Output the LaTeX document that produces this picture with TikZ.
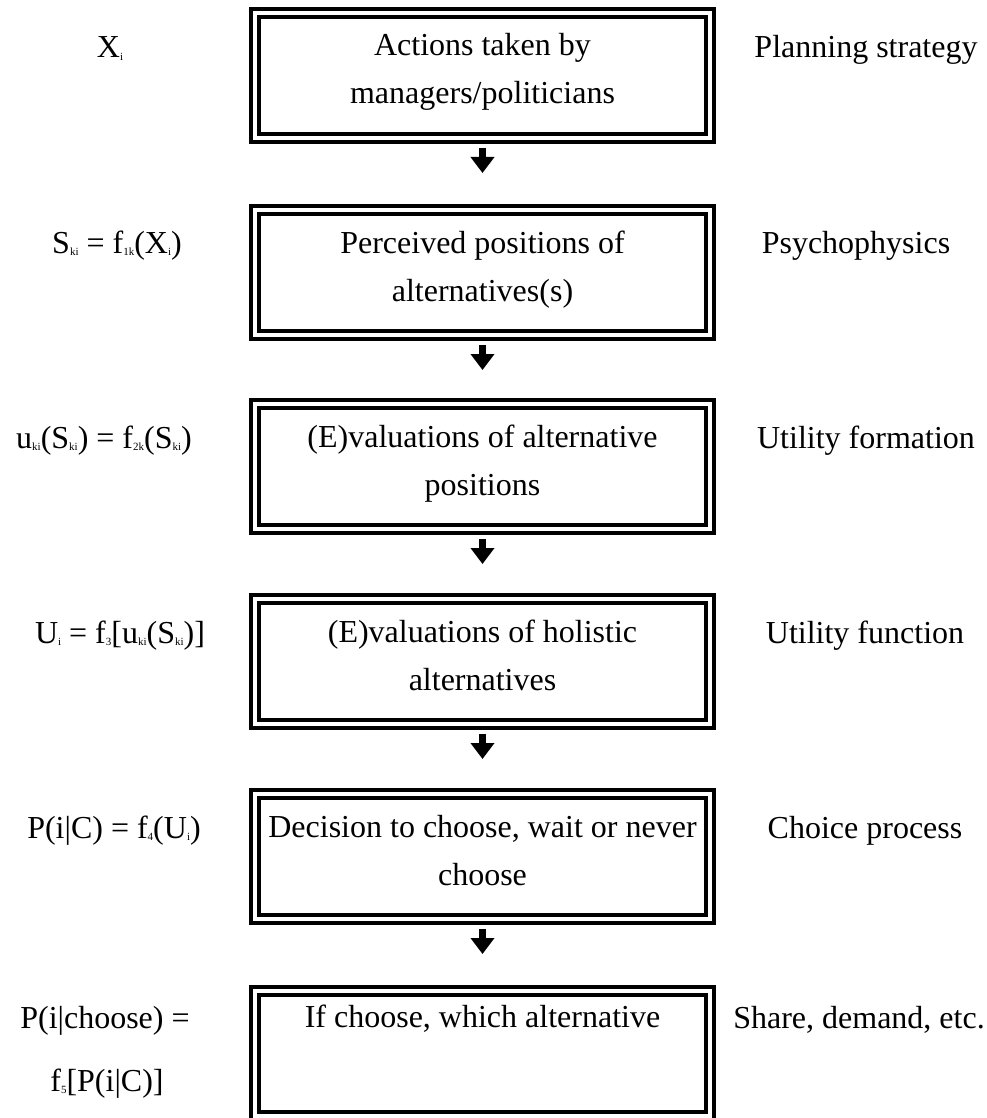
\documentclass[tikz,border=0pt]{standalone}
\usepackage{fontspec}
\setmainfont{Liberation Serif}
\usetikzlibrary{arrows.meta}

\newcommand{\lowsub}[1]{\raisebox{-0.08em}{\fontsize{11}{11}\selectfont #1}}

\begin{document}
\begin{tikzpicture}
        [
            x = 1pt, y = -1pt,
            stage/.style = {preaction = {draw, line width = 19.5pt},
                preaction = {draw, white, line width = 12.5pt},
                draw, fill = white, line width = 4.5pt,
                minimum width = 447pt, minimum height = 117pt, inner sep = 0pt,
                align = center, font = \fontsize{32}{48}\selectfont,
                text height = 57pt, text depth = 0pt},
            leftlab/.style = {font = \fontsize{32}{38}\selectfont, inner sep = 0pt,
                text height = 22pt, text depth = 0pt},
            rightlab/.style = {leftlab},
            flowarrow/.style = {line width = 7pt, shorten <= 11.5pt,
                -{Triangle[width = 23pt, length = 16pt]}}
        ]

        \useasboundingbox (0,0) rectangle (986,1118);

        % the six stages
        \node [stage] (b1) at (482.5,75.5) {Actions taken by\\managers/politicians};
        \node [stage] (b2) at (482.5,272.5) {Perceived positions of\\alternatives(s)};
        \node [stage] (b3) at (482.5,466.5) {(E)valuations of alternative\\positions};
        \node [stage] (b4) at (482.5,661.5) {(E)valuations of holistic\\alternatives};
        \node [stage] (b5) at (482.5,856.5) {Decision to choose, wait or never\\choose};
        \node [stage, text height = 10pt, text depth = 63pt] (b6) at (482.5,1053.5) {If choose, which alternative};

        % arrows
        \coordinate (a1) at (482.5,173);
        \coordinate (a2) at (482.5,370);
        \coordinate (a3) at (482.5,564);
        \coordinate (a4) at (482.5,759);
        \coordinate (a5) at (482.5,954);
        \draw [flowarrow] (b1.south) -- (a1);
        \draw [flowarrow] (b2.south) -- (a2);
        \draw [flowarrow] (b3.south) -- (a3);
        \draw [flowarrow] (b4.south) -- (a4);
        \draw [flowarrow] (b5.south) -- (a5);

        % formulas
        \node [leftlab] (l1) at (110,47) {X\lowsub{i}};
        \node [leftlab] (l2) at (117,242) {S\lowsub{ki} = f\lowsub{1k}(X\lowsub{i})};
        \node [leftlab] (l3) at (104,437) {u\lowsub{ki}(S\lowsub{ki}) = f\lowsub{2k}(S\lowsub{ki})};
        \node [leftlab] (l4) at (120,632) {U\lowsub{i} = f\lowsub{3}[u\lowsub{ki}(S\lowsub{ki})]};
        \node [leftlab] (l5) at (114,827) {P(i|C) = f\lowsub{4}(U\lowsub{i})};
        \node [leftlab] (l6) at (105,1017) {P(i|choose) =};
        \node [leftlab] (l7) at (107,1080) {f\lowsub{5}[P(i|C)]};

        % what each stage is called
        \node [rightlab] (r1) at (866,47) {Planning strategy};
        \node [rightlab] (r2) at (856,242) {Psychophysics};
        \node [rightlab] (r3) at (866,437) {Utility formation};
        \node [rightlab] (r4) at (865,632) {Utility function};
        \node [rightlab] (r5) at (865,827) {Choice process};
        \node [rightlab] (r6) at (859,1017) {Share, demand, etc.};
\end{tikzpicture}
\end{document}
